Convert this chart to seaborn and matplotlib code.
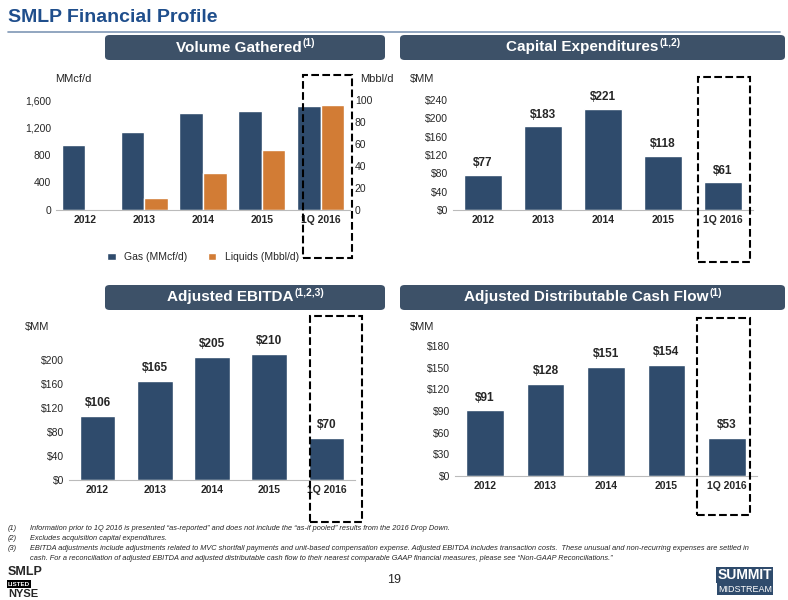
import numpy as np
import pandas as pd
import matplotlib
matplotlib.use("Agg")
import matplotlib.pyplot as plt
from matplotlib.patches import Rectangle, FancyBboxPatch
import seaborn as sns

years = ["2012", "2013", "2014", "2015", "1Q 2016"]
gas = [950, 1130, 1410, 1440, 1510]
liquids = [0, 11, 34, 55, 95]
capex = [77, 183, 221, 118, 61]
ebitda = [106, 165, 205, 210, 70]
dcf = [91, 128, 151, 154, 53]

BLUE = "#2F4B6C"
ORANGE = "#D27C35"
HEAD = "#3D5168"
TITLE = "#1F4E8C"

sns.set_style("white")
plt.rcParams["font.family"] = ["Liberation Sans", "DejaVu Sans"]

W, H = 788, 600
fig = plt.figure(figsize=(7.88, 6.0), dpi=100)
renderer = fig.canvas.get_renderer()

def ax_px(x0, y0, x1, y1):
    return fig.add_axes([x0 / W, 1 - y1 / H, (x1 - x0) / W, (y1 - y0) / H])

def header(x0, x1, y0, y1, txt, sup):
    fig.patches.append(FancyBboxPatch((x0 / W, 1 - y1 / H), (x1 - x0) / W, (y1 - y0) / H,
                       boxstyle="round,pad=0,rounding_size=0.006", transform=fig.transFigure,
                       facecolor=HEAD, edgecolor="none"))
    yc = 1 - (y0 + y1) / 2 / H
    main = fig.text(0, yc, txt, ha="left", va="center", color="white", fontsize=11, fontweight="bold")
    s = fig.text(0, yc + 4 / H, sup, ha="left", va="center", color="white", fontsize=7.5, fontweight="bold")
    w1 = main.get_window_extent(renderer).width
    w2 = s.get_window_extent(renderer).width
    start = (x0 + x1) / 2 - (w1 + w2) / 2
    main.set_x(start / W)
    s.set_x((start + w1 + 1) / W)

def dashed(x0, y0, x1, y1):
    fig.patches.append(Rectangle((x0 / W, 1 - y1 / H), (x1 - x0) / W, (y1 - y0) / H,
                       transform=fig.transFigure, fill=False, ls="--", lw=1.5, ec="black"))

def style(ax):
    for s in ["top", "right", "left"]:
        ax.spines[s].set_visible(False)
    ax.spines["bottom"].set_color("#BBBBBB")
    ax.tick_params(axis="both", length=0, labelsize=7.5)
    ax.set_xlabel("")
    ax.set_ylabel("")
    for t in ax.get_xticklabels():
        t.set_fontweight("bold")

def money_chart(ax, vals, ymax, step, top=None):
    sns.barplot(x=years, y=vals, color=BLUE, width=0.62, ax=ax, saturation=1)
    ax.set_ylim(0, ymax)
    ticks = np.arange(0, (top or ymax) + 1, step)
    ax.set_yticks(ticks)
    ax.set_yticklabels([f"${v}" for v in ticks])
    for i, v in enumerate(vals):
        ax.text(i, v + ymax * 0.05, f"${v}", ha="center", va="bottom", fontsize=8.5, fontweight="bold")
    style(ax)

fig.text(8 / W, 1 - 17 / H, "SMLP Financial Profile", fontsize=14, fontweight="bold", color=TITLE, va="center")
fig.add_artist(plt.Line2D([8 / W, 780 / W], [1 - 32 / H] * 2, color="#7F97B5", lw=1.2))

header(105, 385, 35, 60, "Volume Gathered", "(1)")
header(400, 785, 35, 60, "Capital Expenditures", "(1,2)")
header(105, 385, 285, 310, "Adjusted EBITDA", "(1,2,3)")
header(400, 785, 285, 310, "Adjusted Distributable Cash Flow", "(1)")

# Volume
ax1 = ax_px(56, 100, 350, 210)
df = pd.DataFrame({"year": years * 2,
                   "series": ["Gas (MMcf/d)"] * 5 + ["Liquids (Mbbl/d)"] * 5,
                   "val": gas + [v * 16 for v in liquids]})
sns.barplot(data=df, x="year", y="val", hue="series", palette=[BLUE, ORANGE], width=0.8,
            saturation=1, ax=ax1)
ax1.set_ylim(0, 1600)
ax1.set_yticks([0, 400, 800, 1200, 1600])
ax1.set_yticklabels(["0", "400", "800", "1,200", "1,600"])
style(ax1)
ax1.legend(loc="upper center", bbox_to_anchor=(0.5, -0.3), ncol=2, frameon=False, fontsize=7.5,
           handlelength=0.8)
ax1b = ax1.twinx()
ax1b.set_ylim(0, 100)
ax1b.set_yticks(range(0, 101, 20))
for s in ax1b.spines.values():
    s.set_visible(False)
ax1b.tick_params(length=0, labelsize=7.5)
fig.text(55 / W, 1 - 82 / H, "MMcf/d", fontsize=8)
fig.text(360 / W, 1 - 82 / H, "Mbbl/d", fontsize=8)
dashed(303, 75, 352, 258)

# Capex
ax2 = ax_px(453, 100, 753, 210)
money_chart(ax2, capex, 240, 40)
fig.text(410 / W, 1 - 82 / H, "$MM", fontsize=8)
dashed(698, 77, 750, 262)

# EBITDA
ax3 = ax_px(69, 336, 355, 480)
money_chart(ax3, ebitda, 240, 40, top=200)
fig.text(25 / W, 1 - 330 / H, "$MM", fontsize=8)
dashed(310, 316, 362, 522)

# DCF
ax4 = ax_px(455, 346, 757, 476)
money_chart(ax4, dcf, 180, 30)
fig.text(410 / W, 1 - 330 / H, "$MM", fontsize=8)
dashed(697, 318, 750, 515)

notes = [
    ("(1)", "Information prior to 1Q 2016 is presented \u201cas-reported\u201d and does not include the \u201cas-if pooled\u201d results from the 2016 Drop Down."),
    ("(2)", "Excludes acquisition capital expenditures."),
    ("(3)", "EBITDA adjustments include adjustments related to MVC shortfall payments and unit-based compensation expense. Adjusted EBITDA includes transaction costs.  These unusual and non-recurring expenses are settled in"),
    ("", "cash. For a reconciliation of adjusted EBITDA and adjusted distributable cash flow to their nearest comparable GAAP financial measures, please see \u201cNon-GAAP Reconciliations.\u201d"),
]
for i, (n, t) in enumerate(notes):
    y = 1 - (528 + i * 10) / H
    fig.text(8 / W, y, n, fontsize=5.3, style="italic", va="center")
    fig.text(30 / W, y, t, fontsize=5.3, style="italic", va="center")

fig.text(394 / W, 1 - 580 / H, "19", fontsize=9, ha="center", va="center")
fig.text(8 / W, 1 - 572 / H, "SMLP", fontsize=9, fontweight="bold", va="center")
fig.text(8 / W, 1 - 584 / H, "LISTED", fontsize=4.5, fontweight="bold", color="white", va="center",
         bbox=dict(facecolor="black", pad=0.8, edgecolor="none"))
fig.text(8 / W, 1 - 594 / H, "NYSE", fontsize=8, fontweight="bold", va="center")
fig.text(772 / W, 1 - 575 / H, "SUMMIT", fontsize=10, fontweight="bold", color="white", ha="right", va="center",
         bbox=dict(facecolor="#2F4B6C", pad=1, edgecolor="none"))
fig.text(772 / W, 1 - 589 / H, "MIDSTREAM", fontsize=6.5, color="white", ha="right", va="center",
         bbox=dict(facecolor="#2F4B6C", pad=1, edgecolor="none"))

fig.savefig("out.png", dpi=100)
